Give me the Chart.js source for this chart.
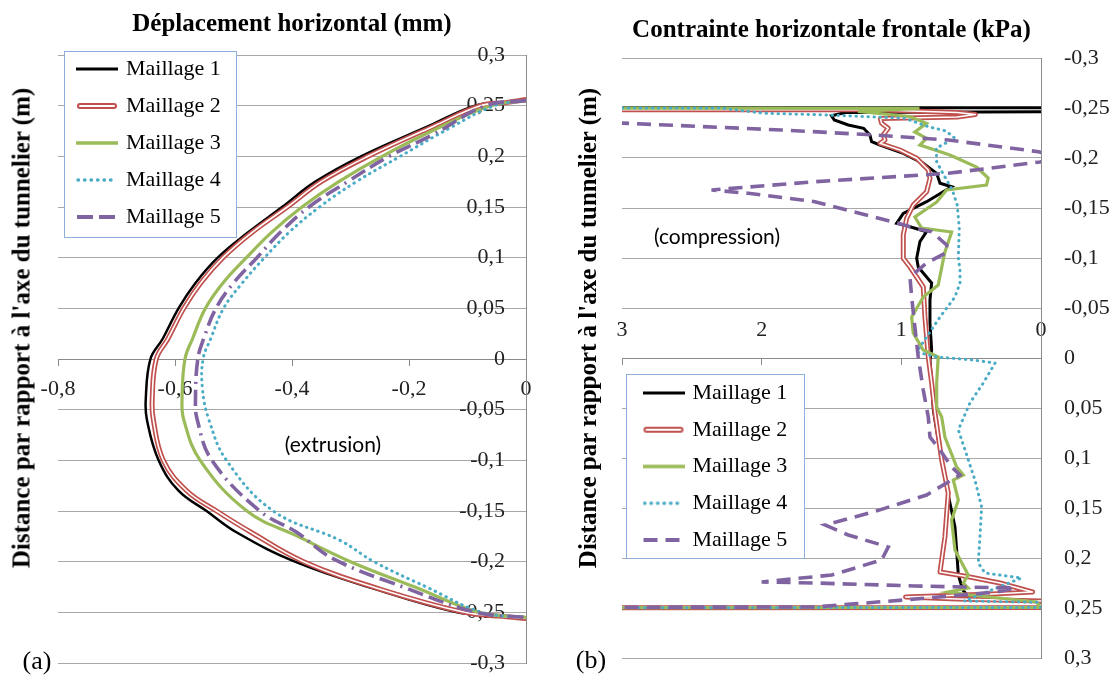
<!DOCTYPE html>
<html lang="fr">
<head>
<meta charset="utf-8">
<title>Maillage</title>
<script src="https://cdn.jsdelivr.net/npm/chart.js@4.4.1/dist/chart.umd.min.js"></script>
<style>
  html, body { margin:0; padding:0; background:#fff; }
  #wrap { position:relative; width:1117px; height:677px; overflow:hidden; background:#fff; }
  #wrap canvas { position:absolute; top:0; }
  #ca { left:0; }
  #cb { left:560px; }
  .lbl { position:absolute; white-space:nowrap; color:#000; transform:translate(-50%,-50%); line-height:1; }
  .ytitle { font-family:"Liberation Serif", serif; font-weight:bold; font-size:25px; transform:translate(-50%,-50%) rotate(-90deg); }
  .note { font-family:Lato, sans-serif; font-size:21px; color:#000; }
  .tag { font-family:"Liberation Serif", serif; font-size:26px; }
</style>
</head>
<body>
<div id="wrap">
  <canvas id="ca" width="560" height="677"></canvas>
  <canvas id="cb" width="557" height="677"></canvas>
  <div class="lbl ytitle" style="left:21px;top:328px;">Distance par rapport à l'axe du tunnelier (m)</div>
  <div class="lbl ytitle" style="left:587px;top:328px;">Distance par rapport à l'axe du tunnelier (m)</div>
  <div class="lbl note" style="left:333px;top:443px;">(extrusion)</div>
  <div class="lbl note" style="left:717px;top:235px;">(compression)</div>
  <div class="lbl tag" style="left:37px;top:661px;">(a)</div>
  <div class="lbl tag" style="left:591px;top:660px;">(b)</div>
</div>
<script>
// ---------------- DATA ----------------
const seriesNames = ['Maillage 1', 'Maillage 2', 'Maillage 3', 'Maillage 4', 'Maillage 5'];
const titleA = 'Déplacement horizontal (mm)';
const titleB = 'Contrainte horizontale frontale (kPa)';

// tick values
const aXTicks = [-0.8, -0.6, -0.4, -0.2, 0];
const aYTicks = [-0.3, -0.25, -0.2, -0.15, -0.1, -0.05, 0, 0.05, 0.1, 0.15, 0.2, 0.25, 0.3];
const bXTicks = [0, 1, 2, 3];
const bYTicks = [-0.3, -0.25, -0.2, -0.15, -0.1, -0.05, 0, 0.05, 0.1, 0.15, 0.2, 0.25, 0.3];

// Panel (a): horizontal displacement (mm) vs distance (m)
const a_y_M1 = [0.256, 0.253, 0.25, 0.23, 0.2, 0.175, 0.15, 0.125, 0.1, 0.075, 0.05, 0.02, 0, -0.04, -0.06, -0.1, -0.13, -0.15, -0.171, -0.2, -0.227, -0.25, -0.253, -0.255];
const a_x_M1 = [0, -0.04, -0.087, -0.166, -0.282, -0.36, -0.417, -0.475, -0.527, -0.565, -0.594, -0.621, -0.642, -0.650, -0.648, -0.628, -0.594, -0.546, -0.495, -0.395, -0.258, -0.118, -0.05, 0];

const a_y_M2 = [0.256, 0.253, 0.25, 0.23, 0.2, 0.175, 0.15, 0.125, 0.1, 0.075, 0.05, 0.02, 0, -0.04, -0.06, -0.1, -0.13, -0.15, -0.171, -0.2, -0.227, -0.25, -0.254, -0.256];
const a_x_M2 = [0, -0.035, -0.078, -0.157, -0.27, -0.35, -0.408, -0.468, -0.518, -0.556, -0.585, -0.612, -0.632, -0.639, -0.637, -0.620, -0.58, -0.529, -0.47, -0.38, -0.25, -0.105, -0.04, 0];

const a_y_M3 = [0.255, 0.25, 0.228, 0.2, 0.175, 0.15, 0.125, 0.1, 0.075, 0.05, 0.02, 0, -0.04, -0.06, -0.1, -0.15, -0.175, -0.2, -0.225, -0.25, -0.255];
const a_x_M3 = [0, -0.06, -0.15, -0.246, -0.32, -0.383, -0.435, -0.478, -0.518, -0.548, -0.57, -0.583, -0.588, -0.585, -0.557, -0.477, -0.39, -0.30, -0.19, -0.08, 0];

const a_y_M4 = [0.255, 0.25, 0.228, 0.2, 0.175, 0.15, 0.125, 0.1, 0.075, 0.05, 0.02, 0, -0.03, -0.06, -0.1, -0.15, -0.179, -0.2, -0.225, -0.25, -0.255];
const a_x_M4 = [0, -0.054, -0.13, -0.215, -0.29, -0.353, -0.405, -0.447, -0.485, -0.517, -0.539, -0.552, -0.553, -0.542, -0.512, -0.432, -0.318, -0.26, -0.17, -0.075, 0];

const a_y_M5 = [0.255, 0.25, 0.222, 0.2, 0.175, 0.15, 0.125, 0.1, 0.075, 0.05, 0.02, 0, -0.04, -0.06, -0.1, -0.15, -0.171, -0.197, -0.225, -0.25, -0.255];
const a_x_M5 = [0, -0.069, -0.157, -0.234, -0.305, -0.371, -0.42, -0.46, -0.50, -0.53, -0.551, -0.561, -0.565, -0.562, -0.537, -0.455, -0.392, -0.33, -0.21, -0.085, 0];

// Panel (b): frontal horizontal stress (kPa) vs distance (m)
const b_y_M1 = [-0.2505, -0.2502, -0.2462, -0.2455, -0.2423, -0.238, -0.233, -0.2297, -0.223, -0.2163, -0.213, -0.2047, -0.1947, -0.1847, -0.1747, -0.1713, -0.1663, -0.1563, -0.1447, -0.1347, -0.1313, -0.1263, -0.1163, -0.0997, -0.091, -0.075, -0.058, -0.035, -0.008, 0.002, 0.025, 0.052, 0.102, 0.129, 0.145, 0.169, 0.192, 0.217, 0.232, 0.242, 0.243, 0.2495, 0.2505];
const b_x_M1 = [10, -0.1, -0.1, 1.40, 1.50, 1.48, 1.38, 1.27, 1.225, 1.213, 1.153, 0.986, 0.843, 0.747, 0.723, 0.64, 0.70, 0.819, 0.986, 1.034, 0.938, 0.819, 0.867, 0.890, 0.879, 0.783, 0.795, 0.795, 0.783, 0.795, 0.783, 0.771, 0.711, 0.676, 0.652, 0.616, 0.604, 0.592, 0.56, 0.50, -0.05, -0.05, 10];

const b_y_M2 = [-0.2485, -0.2482, -0.2455, -0.2435, -0.241, -0.2395, -0.2347, -0.2297, -0.223, -0.218, -0.2147, -0.208, -0.1997, -0.188, -0.1797, -0.1663, -0.153, -0.1397, -0.123, -0.0997, -0.091, -0.071, -0.041, -0.001, 0.025, 0.055, 0.102, 0.135, 0.179, 0.214, 0.219, 0.225, 0.234, 0.236, 0.239, 0.241, 0.243, 0.2495, 0.2505];
const b_x_M2 = [10, 1.2, 0.6, 0.47, 0.6, 1.15, 1.141, 1.094, 1.130, 1.117, 1.153, 1.010, 0.890, 0.807, 0.795, 0.819, 0.915, 0.962, 0.986, 0.986, 0.938, 0.843, 0.831, 0.807, 0.783, 0.759, 0.711, 0.664, 0.688, 0.723, 0.509, 0.294, 0.06, 0.35, 0.97, 0.6, 0.0, -0.05, 10];

const b_y_M3 = [-0.2502, -0.2497, -0.2465, -0.2415, -0.2347, -0.226, -0.2197, -0.213, -0.203, -0.191, -0.180, -0.173, -0.168, -0.156, -0.141, -0.130, -0.126, -0.105, -0.073, -0.061, -0.041, -0.025, -0.008, -0.001, 0.025, 0.049, 0.059, 0.079, 0.109, 0.117, 0.122, 0.142, 0.162, 0.192, 0.217, 0.225, 0.230, 0.234, 0.237, 0.244, 0.2495, 0.2502];
const b_x_M3 = [10, 0.87, 1.31, 0.94, 0.82, 0.903, 0.819, 0.867, 0.652, 0.461, 0.378, 0.39, 0.676, 0.747, 0.903, 0.855, 0.640, 0.69, 0.736, 0.843, 0.926, 0.915, 0.843, 0.736, 0.747, 0.747, 0.711, 0.688, 0.604, 0.556, 0.628, 0.592, 0.640, 0.616, 0.521, 0.556, 0.521, 0.664, 0.509, 0.031, 0.0, 10];

const b_y_M4 = [-0.2502, -0.2500, -0.2447, -0.243, -0.2397, -0.2313, -0.227, -0.2197, -0.21, -0.1963, -0.184, -0.168, -0.153, -0.13, -0.10, -0.088, -0.075, -0.061, -0.041, -0.021, -0.006, -0.001, 0.002, 0.005, 0.025, 0.045, 0.055, 0.072, 0.092, 0.122, 0.149, 0.179, 0.205, 0.215, 0.220, 0.243, 0.2445, 0.2495, 0.2502];
const b_x_M4 = [10, 2.3, 1.98, 1.52, 0.974, 0.807, 0.68, 0.616, 0.75, 0.747, 0.70, 0.635, 0.60, 0.585, 0.592, 0.58, 0.58, 0.616, 0.723, 0.819, 0.890, 0.747, 0.485, 0.329, 0.413, 0.509, 0.54, 0.592, 0.544, 0.473, 0.425, 0.437, 0.449, 0.401, 0.14, 0.55, -0.03, -0.03, 10];

const b_y_M5 = [-0.2352, -0.228, -0.223, -0.218, -0.2063, -0.201, -0.196, -0.1847, -0.1763, -0.168, -0.1647, -0.1563, -0.1347, -0.1297, -0.1263, -0.113, -0.106, -0.095, -0.081, -0.061, -0.031, -0.001, 0.032, 0.059, 0.079, 0.092, 0.109, 0.117, 0.137, 0.154, 0.167, 0.177, 0.189, 0.202, 0.217, 0.224, 0.225, 0.228, 0.230, 0.234, 0.242, 0.249, 0.2505];
const b_x_M5 = [3.05, 1.857, 1.189, 0.664, 0.019, -0.15, 0.007, 0.664, 1.619, 2.359, 2.097, 1.619, 1.022, 0.903, 0.783, 0.676, 0.67, 0.819, 0.938, 0.926, 0.903, 0.879, 0.843, 0.807, 0.795, 0.723, 0.640, 0.58, 0.819, 1.201, 1.547, 1.380, 1.094, 1.141, 1.499, 2.0, 1.619, 0.903, 0.186, 0.317, 0.986, 1.619, 10];

// ---------------- STYLE ----------------
const C_BLACK = '#000000', C_RED = '#c0504d', C_GREEN = '#9bbb59', C_CYAN = '#4bacc6', C_PURPLE = '#8064a2';
const GRID = '#a8a8a8', AXIS = '#8a8a8a';

Chart.defaults.font.family = '"Liberation Serif", serif';
Chart.defaults.color = '#000';

const pts = (xs, ys) => xs.map((x, i) => ({ x: x, y: ys[i] }));
const fmt = v => (Math.round(v * 100) / 100).toString().replace('.', ',');
const setTicks = arr => (s) => { s.ticks = arr.map(v => ({ value: v })); };

function sample(o) {
  const c = document.createElement('canvas');
  c.width = 42; c.height = 10;
  const g = c.getContext('2d');
  const x0 = o.x0 !== undefined ? o.x0 : 0, x1 = o.x1 !== undefined ? o.x1 : 42;
  g.lineCap = o.cap || 'butt';
  g.setLineDash(o.dash || []);
  g.strokeStyle = o.color; g.lineWidth = o.width;
  g.beginPath(); g.moveTo(x0, 5); g.lineTo(x1, 5); g.stroke();
  if (o.inner) {
    g.setLineDash([]); g.strokeStyle = '#fff'; g.lineWidth = o.inner;
    g.beginPath(); g.moveTo(x0, 5); g.lineTo(x1, 5); g.stroke();
  }
  return c;
}

function buildSet(xs, ys, panel) {
  const dashA5 = [16, 6, 16, 6, 2, 6];
  const dashB5 = [14, 8];
  const dash5 = panel === 'a' ? dashA5 : dashB5;
  const ten = panel === 'a' ? 0.4 : 0;
  const base = { showLine: true, pointRadius: 0, pointHoverRadius: 0, tension: ten, fill: false };
  return {
    sets: [
      Object.assign({}, base, { label: seriesNames[0], data: pts(xs[0], ys[0]), borderColor: C_BLACK, borderWidth: panel === 'a' ? 2.5 : 3, order: 5 }),
      Object.assign({}, base, { label: seriesNames[1], data: pts(xs[1], ys[1]), borderColor: C_RED, borderWidth: 5, order: 4, borderCapStyle: 'round', borderJoinStyle: 'round' }),
      Object.assign({}, base, { label: seriesNames[2], data: pts(xs[2], ys[2]), borderColor: C_GREEN, borderWidth: 3.2, order: 2 }),
      Object.assign({}, base, { label: seriesNames[3], data: pts(xs[3], ys[3]), borderColor: C_CYAN, borderWidth: 3, borderDash: [0.5, 5.5], borderCapStyle: 'round', order: 1 }),
      Object.assign({}, base, { label: seriesNames[4], data: pts(xs[4], ys[4]), borderColor: C_PURPLE, borderWidth: 3.6, borderDash: dash5, order: 0 }),
      Object.assign({}, base, { label: '', data: pts(xs[1], ys[1]), borderColor: '#ffffff', borderWidth: 1.6, order: 3, borderJoinStyle: 'round' })
    ],
    samples: [
      sample({ color: C_BLACK, width: 3.2 }),
      sample({ color: C_RED, width: 6, inner: 2, cap: 'round', x0: 4, x1: 38 }),
      sample({ color: C_GREEN, width: 3.6 }),
      sample({ color: C_CYAN, width: 3.4, cap: 'round', dash: [0.5, 6], x0: 2, x1: 41 }),
      sample({ color: C_PURPLE, width: 3.8, dash: dash5, x0: 1, x1: 42 })
    ]
  };
}

const legendBoxPlugin = {
  id: 'legendBox',
  afterLayout(chart, args, o) {
    const lg = chart.legend;
    if (!lg) return;
    lg.left = o.lx; lg.top = o.ly;
    lg.right = o.lx + 400; lg.bottom = o.ly + 400;
    lg.width = 400; lg.height = 400;
  },
  beforeDatasetsDraw(chart, args, o) {
    const ctx = chart.ctx;
    ctx.save();
    ctx.fillStyle = '#ffffff';
    ctx.fillRect(o.bx, o.by, o.bw, o.bh);
    ctx.strokeStyle = '#8eaedb';
    ctx.lineWidth = 1;
    ctx.strokeRect(o.bx + 0.5, o.by + 0.5, o.bw, o.bh);
    ctx.restore();
    chart.legend.draw();
  }
};

function legendOpts(samples, pad) {
  return {
    display: true,
    position: 'chartArea',
    align: 'start',
    labels: {
      usePointStyle: true,
      pointStyleWidth: 36,
      boxHeight: 22,
      padding: pad,
      color: '#000',
      textAlign: 'left',
      font: { size: 22 },
      generateLabels: () => seriesNames.map((n, i) => ({
        text: n, pointStyle: samples[i], datasetIndex: i, hidden: false,
        lineWidth: 1, fillStyle: 'rgba(0,0,0,0)', strokeStyle: 'rgba(0,0,0,0)', fontColor: '#000'
      }))
    }
  };
}

// ---------------- PANEL (a) ----------------
const A = buildSet([a_x_M1, a_x_M2, a_x_M3, a_x_M4, a_x_M5], [a_y_M1, a_y_M2, a_y_M3, a_y_M4, a_y_M5], 'a');
new Chart(document.getElementById('ca'), {
  type: 'scatter',
  data: { datasets: A.sets },
  plugins: [legendBoxPlugin],
  options: {
    responsive: false, animation: false, devicePixelRatio: 1,
    layout: { padding: { left: 58, right: 34, top: 0, bottom: 14 } },
    plugins: {
      title: { display: true, text: titleA, fullSize: false, color: '#000', font: { size: 25, weight: 'bold' }, padding: { top: 10, bottom: 15 } },
      legend: legendOpts(A.samples, 15),
      tooltip: { enabled: false },
      legendBox: { lx: 64, ly: 43, bx: 64, by: 51, bw: 172, bh: 186 }
    },
    scales: {
      x: {
        type: 'linear', min: -0.8, max: 0, position: { y: 0 },
        afterBuildTicks: setTicks(aXTicks),
        afterFit: s => { s.height = 0; },
        grid: { drawOnChartArea: false, drawTicks: true, tickLength: 6, color: AXIS },
        border: { color: AXIS, width: 1 },
        ticks: { padding: 11, autoSkip: false, maxRotation: 0, font: { size: 22 }, color: '#222', callback: v => fmt(v) }
      },
      y: {
        type: 'linear', min: -0.3, max: 0.3, position: 'right',
        afterBuildTicks: setTicks(aYTicks),
        afterFit: s => { s.width = 0; },
        grid: { color: GRID, drawTicks: false },
        border: { color: AXIS, width: 1 },
        ticks: { mirror: true, padding: -21, autoSkip: false, font: { size: 22 }, color: '#222', callback: v => fmt(v) }
      }
    }
  }
});

// ---------------- PANEL (b) ----------------
const B = buildSet([b_x_M1, b_x_M2, b_x_M3, b_x_M4, b_x_M5], [b_y_M1, b_y_M2, b_y_M3, b_y_M4, b_y_M5], 'b');
new Chart(document.getElementById('cb'), {
  type: 'scatter',
  data: { datasets: B.sets },
  plugins: [legendBoxPlugin],
  options: {
    responsive: false, animation: false, devicePixelRatio: 1,
    layout: { padding: { left: 62, right: 0, top: 0, bottom: 19 } },
    plugins: {
      title: { display: true, text: titleB, fullSize: false, color: '#000', font: { size: 25, weight: 'bold' }, padding: { top: 16, bottom: 12 } },
      legend: legendOpts(B.samples, 14.75),
      tooltip: { enabled: false },
      legendBox: { lx: 70.75, ly: 367.25, bx: 66, by: 374, bw: 178, bh: 184 }
    },
    scales: {
      x: {
        type: 'linear', min: 0, max: 3, reverse: true, position: { y: 0 },
        afterBuildTicks: setTicks(bXTicks),
        afterFit: s => { s.height = 0; },
        grid: { drawOnChartArea: false, drawTicks: true, tickLength: 6, color: AXIS },
        border: { color: AXIS, width: 1 },
        ticks: { padding: -47, autoSkip: false, maxRotation: 0, font: { size: 22 }, color: '#222', callback: v => fmt(v) }
      },
      y: {
        type: 'linear', min: -0.3, max: 0.3, reverse: true, position: 'right',
        afterBuildTicks: setTicks(bYTicks),
        afterFit: s => { s.width = 76; },
        grid: { color: GRID, drawTicks: true, tickLength: 23, tickColor: 'rgba(0,0,0,0)' },
        border: { color: AXIS, width: 1 },
        ticks: { padding: 0, autoSkip: false, font: { size: 22 }, color: '#222', callback: v => fmt(v) }
      }
    }
  }
});
</script>
</body>
</html>
